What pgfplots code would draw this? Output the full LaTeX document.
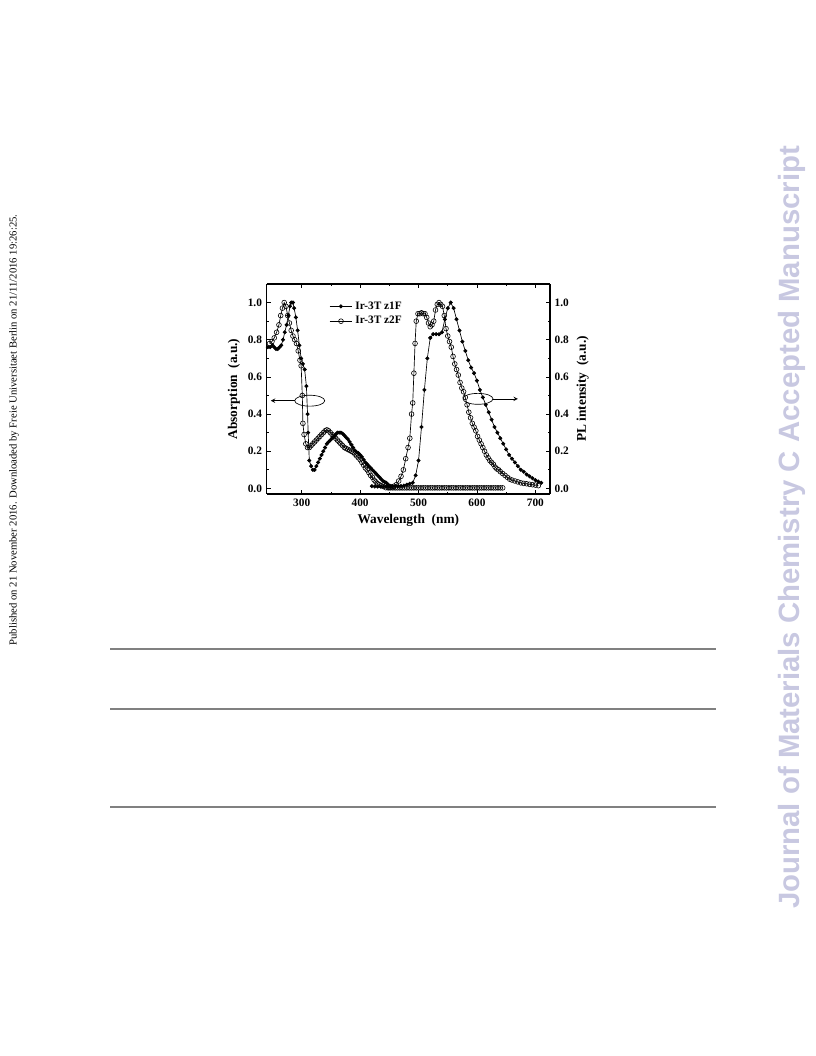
\documentclass[border=0pt]{standalone}
\usepackage{pgfplots}
\pgfplotsset{compat=1.18}
\usepackage{fontspec}
\setmainfont{Liberation Serif}
\setsansfont{Liberation Sans}
\definecolor{wmark}{RGB}{200,200,225}
\definecolor{rule}{RGB}{128,128,128}

% absorption, Ir-3T z1F
\pgfplotstableread{
x y
242 0.76
246 0.76
250 0.77
253 0.76
256 0.75
259 0.75
262 0.76
265 0.77
268 0.80
271 0.84
274 0.88
277 0.93
280 0.98
282 1.00
285 1.00
287 0.97
290 0.92
293 0.85
296 0.77
299 0.70
302 0.67
305 0.64
308 0.55
310 0.40
311 0.30
313 0.15
316 0.12
319 0.10
322 0.10
325 0.12
328 0.14
331 0.16
334 0.18
337 0.20
340 0.22
343 0.24
346 0.25
349 0.26
352 0.27
355 0.28
358 0.29
361 0.30
364 0.30
367 0.30
370 0.295
373 0.285
376 0.275
379 0.265
382 0.25
385 0.235
388 0.22
391 0.205
394 0.195
397 0.19
400 0.18
403 0.17
406 0.155
409 0.14
412 0.13
415 0.12
418 0.11
421 0.10
424 0.09
427 0.08
430 0.07
433 0.06
436 0.05
439 0.04
442 0.035
445 0.03
448 0.02
451 0.015
}\absA

% absorption, Ir-3T z2F
\pgfplotstableread{
x y
245 0.78
249 0.79
253 0.81
257 0.84
261 0.88
264 0.93
267 0.97
270 1.00
273 0.98
276 0.93
279 0.89
282 0.85
285 0.82
288 0.80
291 0.78
294 0.74
297 0.69
299 0.66
301 0.50
302 0.35
304 0.29
307 0.24
310 0.22
313 0.22
316 0.23
319 0.24
322 0.25
325 0.26
328 0.27
331 0.28
334 0.29
337 0.30
340 0.31
343 0.315
346 0.31
349 0.30
352 0.29
355 0.28
358 0.27
361 0.26
364 0.25
367 0.24
370 0.23
373 0.22
376 0.215
379 0.21
382 0.205
385 0.20
388 0.195
391 0.185
394 0.175
397 0.165
400 0.155
403 0.14
406 0.125
409 0.11
412 0.10
415 0.085
418 0.07
421 0.06
424 0.045
427 0.035
430 0.025
433 0.02
436 0.015
440 0.01
444 0.004
448 0.003
452 0.003
456 0.003
460 0.003
464 0.003
468 0.003
472 0.003
476 0.003
480 0.003
484 0.003
488 0.003
492 0.003
496 0.003
500 0.003
504 0.003
508 0.003
512 0.003
516 0.003
520 0.003
524 0.003
528 0.003
532 0.003
536 0.003
540 0.003
544 0.003
548 0.003
552 0.003
556 0.003
560 0.003
564 0.003
568 0.003
572 0.003
576 0.003
580 0.003
584 0.003
588 0.003
592 0.003
596 0.003
600 0.003
604 0.003
608 0.003
612 0.003
616 0.003
620 0.003
624 0.003
628 0.003
632 0.003
636 0.003
640 0.003
644 0.003
}\absB

% PL, Ir-3T z1F
\pgfplotstableread{
x y
420 0.012
425 0.01
430 0.01
435 0.01
440 0.01
445 0.01
450 0.01
455 0.01
460 0.012
465 0.012
470 0.013
475 0.015
480 0.02
485 0.025
490 0.03
495 0.07
500 0.15
505 0.33
510 0.53
515 0.70
520 0.81
525 0.83
530 0.83
535 0.83
540 0.84
545 0.91
550 0.97
555 1.00
560 0.97
565 0.91
570 0.85
575 0.79
580 0.74
585 0.69
590 0.65
595 0.62
600 0.58
605 0.53
610 0.49
615 0.45
620 0.41
625 0.37
630 0.33
635 0.30
640 0.27
645 0.24
650 0.21
655 0.18
660 0.16
665 0.14
670 0.12
675 0.10
680 0.09
685 0.075
690 0.065
695 0.055
700 0.045
705 0.037
710 0.03
}\plA

% PL, Ir-3T z2F
\pgfplotstableread{
x y
450 0.005
454 0.008
458 0.012
462 0.02
466 0.04
470 0.065
474 0.10
478 0.16
482 0.22
485 0.27
488 0.40
490 0.46
492 0.62
494 0.78
496 0.90
499 0.94
502 0.94
505 0.945
508 0.94
511 0.94
514 0.92
517 0.89
520 0.87
523 0.88
526 0.90
529 0.96
532 0.99
535 1.00
538 0.99
541 0.98
544 0.93
547 0.86
550 0.82
553 0.79
556 0.76
559 0.71
562 0.67
565 0.64
568 0.61
571 0.57
574 0.54
577 0.52
580 0.49
583 0.45
586 0.41
589 0.38
592 0.35
595 0.33
598 0.31
601 0.28
604 0.26
607 0.24
610 0.22
613 0.20
616 0.18
619 0.165
622 0.15
625 0.14
628 0.13
631 0.115
634 0.105
637 0.10
640 0.09
644 0.08
648 0.07
652 0.06
656 0.05
660 0.045
665 0.04
670 0.035
675 0.03
680 0.027
685 0.025
690 0.022
695 0.02
700 0.018
705 0.015
}\plB

\begin{document}
\begin{tikzpicture}
\path (0,0) rectangle (612pt,792pt);

\pgfplotsset{
  specbase/.style={
    scale only axis, width=212.5pt, height=157.5pt,
    at={(200pt,421.5pt)}, anchor=south west,
    xmin=240, xmax=725, ymin=-0.03, ymax=1.1,
    axis line style={line width=1pt},
    tick style={black, line width=0.6pt},
    major tick length=3pt, minor tick length=1.8pt,
    minor tick num=1,
    ytick={0,0.2,0.4,0.6,0.8,1.0},
    yticklabel style={/pgf/number format/.cd, fixed, fixed zerofill, precision=1},
    /pgf/number format/assume math mode=true,
    tick label style={font=\bfseries\fontsize{8.5}{10}\selectfont},
    label style={font=\bfseries\fontsize{10}{12}\selectfont},
  },
  fz/.style={black, line width=0.5pt, mark=*, mark size=1.25pt},
  oz/.style={black, line width=0.5pt, mark=o, mark size=1.8pt, mark options={fill=white, line width=0.45pt}},
}

\begin{axis}[specbase,
  axis y line*=left, axis x line*=box,
  xtick={300,400,500,600,700},
  xlabel={Wavelength\ \ (nm)},
  ylabel={Absorption\ \ (a.u.)},
  ylabel style={yshift=-1pt},
  xlabel style={yshift=1pt},
  legend style={at={(0.22,0.93)}, anchor=north west, draw=none, fill=none,
    inner sep=0pt, font=\bfseries\fontsize{8.5}{10}\selectfont, row sep=0pt},
  legend cell align=left,
]
\addplot[fz] table {\absA};
\addlegendentry{Ir-3T z1F}
\addplot[oz] table {\absB};
\addlegendentry{Ir-3T z2F}
\draw[line width=0.5pt] (axis cs:313.7,0.472) ellipse [x radius=11.25pt, y radius=4.1pt];
\draw[line width=0.5pt, -stealth] (axis cs:288,0.472) -- (axis cs:247,0.472);
\draw[line width=0.5pt] (axis cs:601.7,0.482) ellipse [x radius=11.25pt, y radius=4.1pt];
\draw[line width=0.5pt, -stealth] (axis cs:627.4,0.482) -- (axis cs:670,0.482);
\end{axis}

\begin{axis}[specbase,
  axis y line*=right, axis x line=none,
  ylabel={PL intensity\ \ (a.u.)},
  ylabel style={yshift=1pt},
]
\addplot[fz] table {\plA};
\addplot[oz] table {\plB};
\end{axis}

% page furniture
\node[rotate=90, font=\fontsize{8}{9}\selectfont] at (10.5pt,469.5pt)
  {Published on 21 November 2016. Downloaded by Freie Universitaet Berlin on 21/11/2016 19:26:25.};
\node[rotate=90, text=wmark, font=\sffamily\bfseries\fontsize{22}{24}\selectfont] at (594pt,396.4pt)
  {Journal of Materials Chemistry C Accepted Manuscript};
\draw[rule, line width=1pt] (82.5pt,305.25pt) -- (537pt,305.25pt);
\draw[rule, line width=1pt] (82.5pt,260.25pt) -- (537pt,260.25pt);
\draw[rule, line width=1pt] (82.5pt,186.75pt) -- (537pt,186.75pt);
\end{tikzpicture}
\end{document}
